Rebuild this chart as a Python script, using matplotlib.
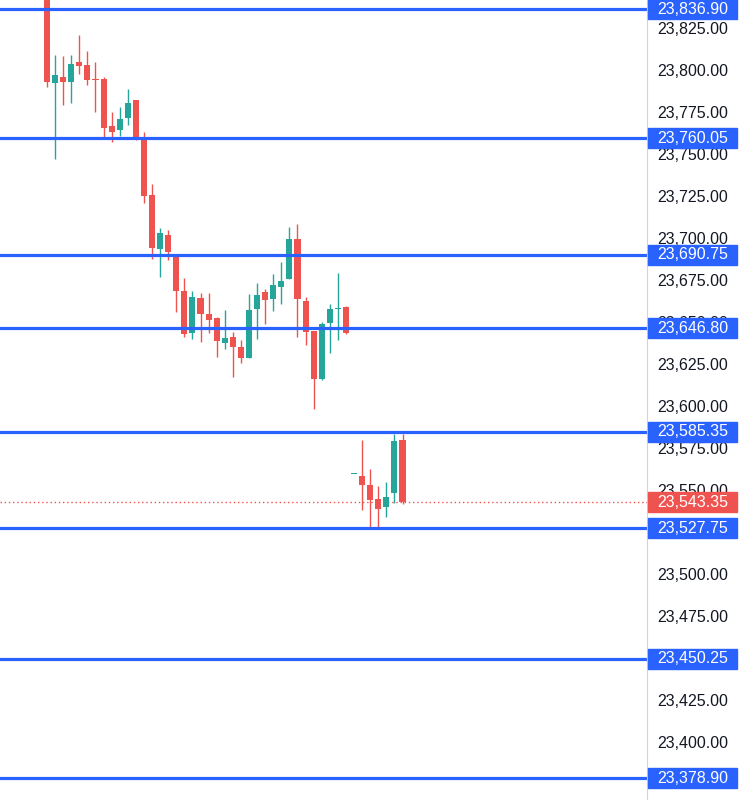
import matplotlib.pyplot as plt
from matplotlib.patches import Rectangle

# candle data (one per bar, left to right)
opens = [23850.0, 23792.9, 23796.4, 23793.5, 23805.4, 23803.6, 23795.2, 23795.0, 23767.3, 23764.9,
         23772.0, 23782.7, 23759.5, 23726.2, 23694.0, 23702.4, 23689.3, 23669.0, 23644.0, 23664.9,
         23655.4, 23653.0, 23638.0, 23641.7, 23635.7, 23629.2, 23658.3, 23668.5, 23664.3, 23671.4,
         23676.2, 23700.0, 23663.1, 23645.2, 23616.7, 23650.0, 23658.3, 23659.5, 23560.1, 23558.9,
         23553.6, 23545.2, 23540.5, 23548.8, 23580.4]
highs = [23856.0, 23809.5, 23808.9, 23809.5, 23821.4, 23811.9, 23805.4, 23796.4, 23775.6, 23778.6,
         23789.3, 23783.0, 23763.7, 23732.7, 23706.5, 23705.4, 23690.5, 23676.8, 23669.0, 23667.9,
         23667.9, 23653.6, 23657.7, 23644.6, 23639.9, 23667.3, 23673.8, 23670.2, 23679.2, 23686.3,
         23707.1, 23708.9, 23665.5, 23645.5, 23650.6, 23661.3, 23679.8, 23660.0, 23560.1, 23580.4,
         23563.1, 23553.0, 23555.4, 23583.9, 23583.9]
lows = [23790.5, 23747.6, 23779.8, 23781.0, 23798.2, 23791.7, 23775.6, 23760.7, 23757.7, 23761.3,
        23767.9, 23759.0, 23721.4, 23688.0, 23677.4, 23687.5, 23656.5, 23641.7, 23640.5, 23638.7,
        23644.0, 23629.8, 23634.5, 23617.9, 23626.2, 23629.0, 23640.5, 23649.4, 23657.1, 23661.3,
        23676.0, 23641.7, 23636.9, 23598.8, 23616.0, 23632.1, 23639.9, 23643.5, 23560.1, 23538.7,
        23528.0, 23528.0, 23534.5, 23542.9, 23542.5]
closes = [23793.5, 23797.6, 23793.5, 23804.2, 23803.0, 23794.6, 23794.6, 23766.1, 23763.7, 23771.4,
          23781.0, 23760.7, 23725.6, 23694.6, 23703.6, 23692.3, 23669.0, 23643.5, 23665.5, 23655.4,
          23651.8, 23639.3, 23641.0, 23635.7, 23629.2, 23657.7, 23666.7, 23663.7, 23672.6, 23675.0,
          23700.0, 23664.3, 23644.6, 23616.7, 23649.4, 23658.3, 23658.3, 23644.0, 23560.1, 23553.6,
          23544.6, 23539.3, 23546.4, 23579.8, 23543.35]

# horizontal levels and price axis
levels = [23836.90, 23760.05, 23690.75, 23646.80, 23585.35, 23527.75, 23450.25, 23378.90]
last_price = 23543.35
tick_values = [23825, 23800, 23775, 23750, 23725, 23700, 23675, 23650, 23625, 23600,
               23575, 23550, 23500, 23475, 23425, 23400]

UP = '#26a69a'
DOWN = '#ef5350'
BLUE = '#2962ff'

W, H = 745, 800
fig = plt.figure(figsize=(W / 100, H / 100), dpi=100)
plt.rcParams['font.family'] = ['Liberation Sans', 'DejaVu Sans']

ylim = (23366.1, 23842.3)
panel = 647

ax = fig.add_axes([0, 0, panel / W, 1])
ax.set_ylim(*ylim)
ax.set_xlim(-47 / 8.08, (panel - 47) / 8.08)
for s in ax.spines.values():
    s.set_visible(False)
ax.set_xticks([])
ax.set_yticks([])

xs = range(len(opens))
for i in xs:
    o, h, l, c = opens[i], highs[i], lows[i], closes[i]
    col = UP if c >= o else DOWN
    ax.vlines(i, l, h, color=col, lw=1.0, zorder=2)
    ax.bar(i, max(abs(c - o), 0.7), bottom=min(o, c), width=0.75, color=col, zorder=3)

for lv in levels:
    ax.axhline(lv, color=BLUE, lw=2.3, zorder=4)
ax.axhline(last_price, color=DOWN, lw=1.0, ls=(0, (1, 2)), zorder=1)

# right price scale
axr = fig.add_axes([panel / W, 0, (W - panel) / W, 1])
axr.set_ylim(*ylim)
axr.set_xlim(0, W - panel)
axr.set_xticks([])
axr.set_yticks([])
for k, s in axr.spines.items():
    s.set_visible(k == 'left')
axr.spines['left'].set_color('#d1d4dc')
axr.spines['left'].set_linewidth(0.8)

for t in tick_values:
    axr.text(10, t, f'{t:,.2f}', color='#131722', fontsize=11.5, va='center', ha='left')

box_h = 20 / 1.68
for lv in levels + [last_price]:
    col = DOWN if lv == last_price else BLUE
    axr.add_patch(Rectangle((1, lv - box_h / 2), 89, box_h, color=col, zorder=5))
    axr.text(10, lv, f'{lv:,.2f}', color='white', fontsize=11.5, va='center', ha='left', zorder=6)

fig.savefig('out.png', dpi=100)
